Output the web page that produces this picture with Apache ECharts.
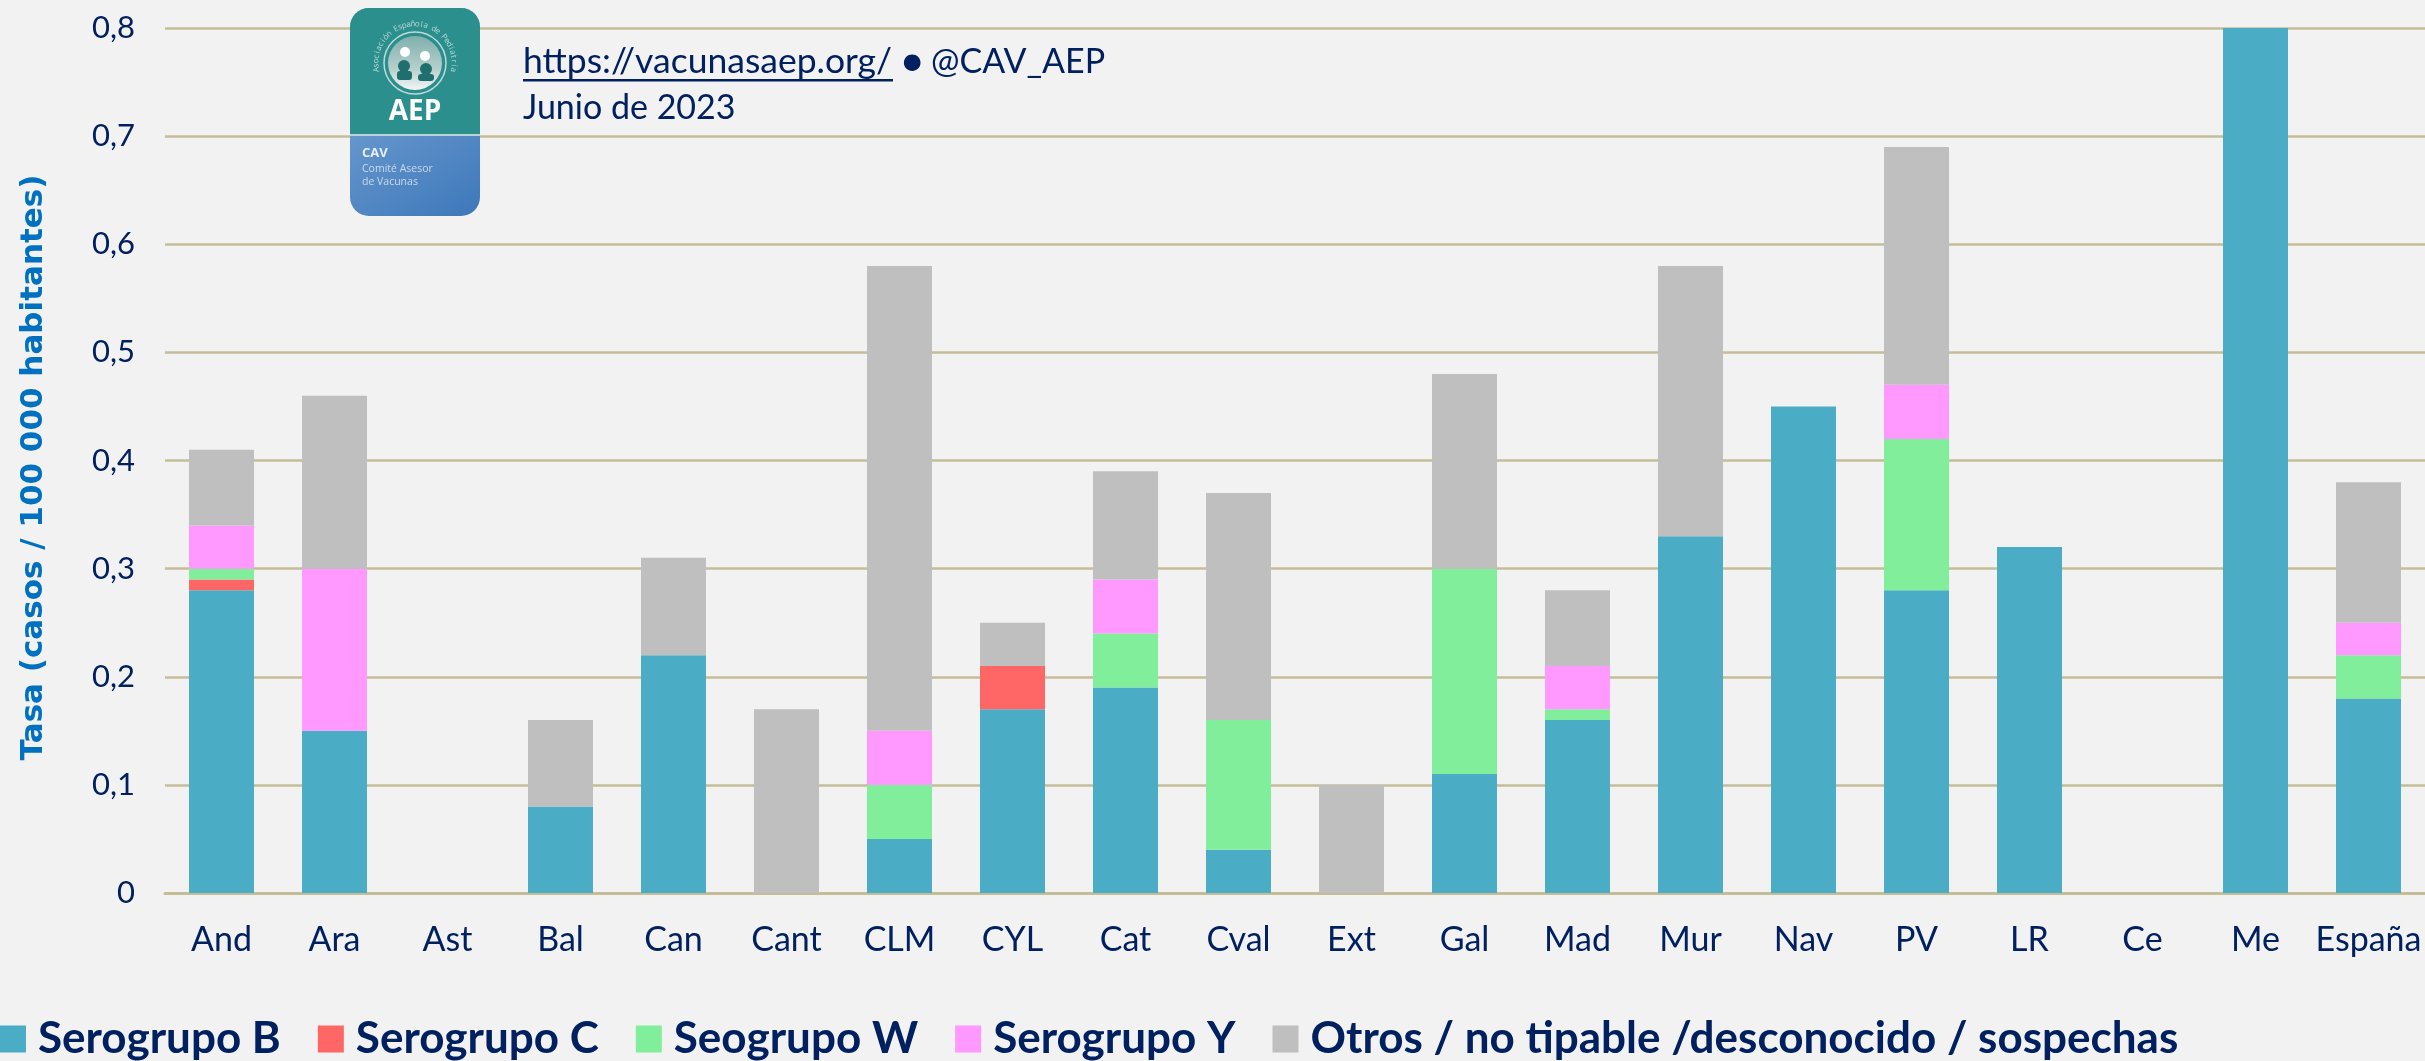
<!DOCTYPE html>
<html><head><meta charset="utf-8">
<style>html,body{margin:0;padding:0;background:#f2f2f2}#c{width:2425px;height:1061px}</style>
<script src="https://cdn.jsdelivr.net/npm/echarts@6/dist/echarts.min.js"></script>
</head><body><div id="c"></div>
<script>
const categories=['And','Ara','Ast','Bal','Can','Cant','CLM','CYL','Cat','Cval','Ext','Gal','Mad','Mur','Nav','PV','LR','Ce','Me','España'];
const serogrupoB=[0.28,0.15,0,0.08,0.22,0,0.05,0.17,0.19,0.04,0,0.11,0.16,0.33,0.45,0.28,0.32,0,0.8,0.18];
const serogrupoC=[0.01,0,0,0,0,0,0,0.04,0,0,0,0,0,0,0,0,0,0,0,0];
const seogrupoW=[0.01,0,0,0,0,0,0.05,0,0.05,0.12,0,0.19,0.01,0,0,0.14,0,0,0,0.04];
const serogrupoY=[0.04,0.15,0,0,0,0,0.05,0,0.05,0,0,0,0.04,0,0,0.05,0,0,0,0.03];
const otros=[0.07,0.16,0,0.08,0.09,0.17,0.43,0.04,0.10,0.21,0.10,0.18,0.07,0.25,0,0.22,0,0,0,0.13];
const seriesNames=['Serogrupo B','Serogrupo C','Seogrupo W','Serogrupo Y','Otros / no tipable /desconocido / sospechas'];
const seriesValues=[serogrupoB,serogrupoC,seogrupoW,serogrupoY,otros];
const seriesColors=['#4BACC6','#FF6666','#80EE9A','#FF99FF','#BFBFBF'];
const navy='#002060', font='Lato';

const chart=echarts.init(document.getElementById('c'),null,{renderer:'canvas'});

// logo decoration
const logo=[
 {type:'rect',shape:{x:350,y:8,width:130,height:208,r:19},style:{fill:new echarts.graphic.LinearGradient(0,0,1,1,[{offset:0,color:'#86ADDB'},{offset:1,color:'#3D78BA'}])}},
 {type:'rect',shape:{x:350,y:8,width:130,height:126,r:[19,19,0,0]},style:{fill:'#2A8F8D'}},
 {type:'rect',shape:{x:350,y:134,width:130,height:2},style:{fill:'#B9D3D6'}},
 {type:'circle',shape:{cx:415,cy:63,r:31},style:{fill:'none',stroke:'#BFDAD9',lineWidth:1.5}},
 {type:'circle',shape:{cx:415,cy:63,r:27},style:{fill:new echarts.graphic.LinearGradient(0,0,0,1,[{offset:0,color:'#7FAFAC'},{offset:0.6,color:'#B5CFCD'},{offset:1,color:'#F2F6F6'}])}},
 {type:'circle',shape:{cx:405,cy:52,r:5},style:{fill:'#fff'}},
 {type:'circle',shape:{cx:425,cy:56,r:5},style:{fill:'#fff'}},
 {type:'circle',shape:{cx:404,cy:66,r:6},style:{fill:'#1F6F6F'}},
 {type:'circle',shape:{cx:426,cy:69,r:6},style:{fill:'#1F6F6F'}},
 {type:'rect',shape:{x:397,y:71,width:15,height:9,r:3},style:{fill:'#1F6F6F'}},
 {type:'rect',shape:{x:418,y:74,width:16,height:7,r:3},style:{fill:'#1F6F6F'}},
 {type:'text',style:{text:'AEP',x:415,y:112,align:'center',verticalAlign:'middle',fill:'#fff',font:'bold 28px "Open Sans"'}},
 {type:'text',style:{text:'CAV',x:362,y:153,align:'left',verticalAlign:'middle',fill:'#E6EEF7',font:'bold 13px "Open Sans"'}},
 {type:'text',style:{text:'Comité Asesor',x:362,y:169,align:'left',verticalAlign:'middle',fill:'#C9DAEE',font:'10.5px "Open Sans"'}},
 {type:'text',style:{text:'de Vacunas',x:362,y:182,align:'left',verticalAlign:'middle',fill:'#C9DAEE',font:'10.5px "Open Sans"'}}
];
const arcText='Asociación Española de Pediatría';
[...arcText].forEach((ch,i,a)=>{
  const ang=-190+200*i/(a.length-1), rad=ang*Math.PI/180;
  logo.push({type:'text',x:415+39*Math.cos(rad),y:63+39*Math.sin(rad),rotation:-(ang+90)*Math.PI/180,
    style:{text:ch,align:'center',verticalAlign:'middle',fill:'#BFDAD9',font:'8px "Open Sans"'}});
});

const header=[
 {type:'text',style:{text:'https://vacunasaep.org/',x:523,y:62,verticalAlign:'middle',fill:navy,font:'35.5px '+font}},
 {type:'rect',shape:{x:523,y:79,width:370,height:2.5},style:{fill:navy}},
 {type:'text',style:{text:'● @CAV_AEP',x:902,y:62,verticalAlign:'middle',fill:navy,font:'34px '+font}},
 {type:'text',style:{text:'Junio de 2023',x:523,y:108,verticalAlign:'middle',fill:navy,font:'34px '+font}}
];

chart.setOption({
  backgroundColor:'#F2F2F2',
  animation:false,
  textStyle:{fontFamily:font},
  grid:{left:165,right:0,top:28,bottom:168,containLabel:false,outerBoundsMode:'none'},
  legend:{left:0,top:1017,padding:0,itemWidth:26,itemHeight:27,itemGap:37,icon:'rect',
    data:seriesNames,
    textStyle:{color:navy,fontFamily:font,fontWeight:'bold',fontSize:44,padding:[0,0,0,7]}},
  xAxis:{type:'category',data:categories,
    axisLine:{lineStyle:{color:'#C4BD97',width:3}},axisTick:{show:false},
    axisLabel:{color:navy,fontSize:34,margin:30,interval:0,fontFamily:font}},
  yAxis:{type:'value',min:0,max:0.8,interval:0.1,
    name:'Tasa (casos / 100 000 habitantes)',nameLocation:'middle',nameGap:116,
    nameTextStyle:{color:'#0070C0',fontSize:31,fontWeight:'bold',fontFamily:'DejaVu Sans',padding:[0,14,0,0]},
    axisLine:{show:false},axisTick:{show:false},
    splitLine:{lineStyle:{color:'#C4BD97',width:2.5}},
    axisLabel:{color:navy,fontSize:31,margin:30,fontFamily:font,
      formatter:v=>v===0?'0':v.toFixed(1).replace('.',',')}},
  series:seriesNames.map((n,i)=>({
    name:n,type:'bar',stack:'total',barWidth:65,
    itemStyle:{color:seriesColors[i]},
    data:seriesValues[i]
  })),
  graphic:{elements:[...logo.map(e=>Object.assign(e,{z:50,silent:true})),...header.map(e=>Object.assign(e,{z:50,silent:true}))]}
});
</script></body></html>
